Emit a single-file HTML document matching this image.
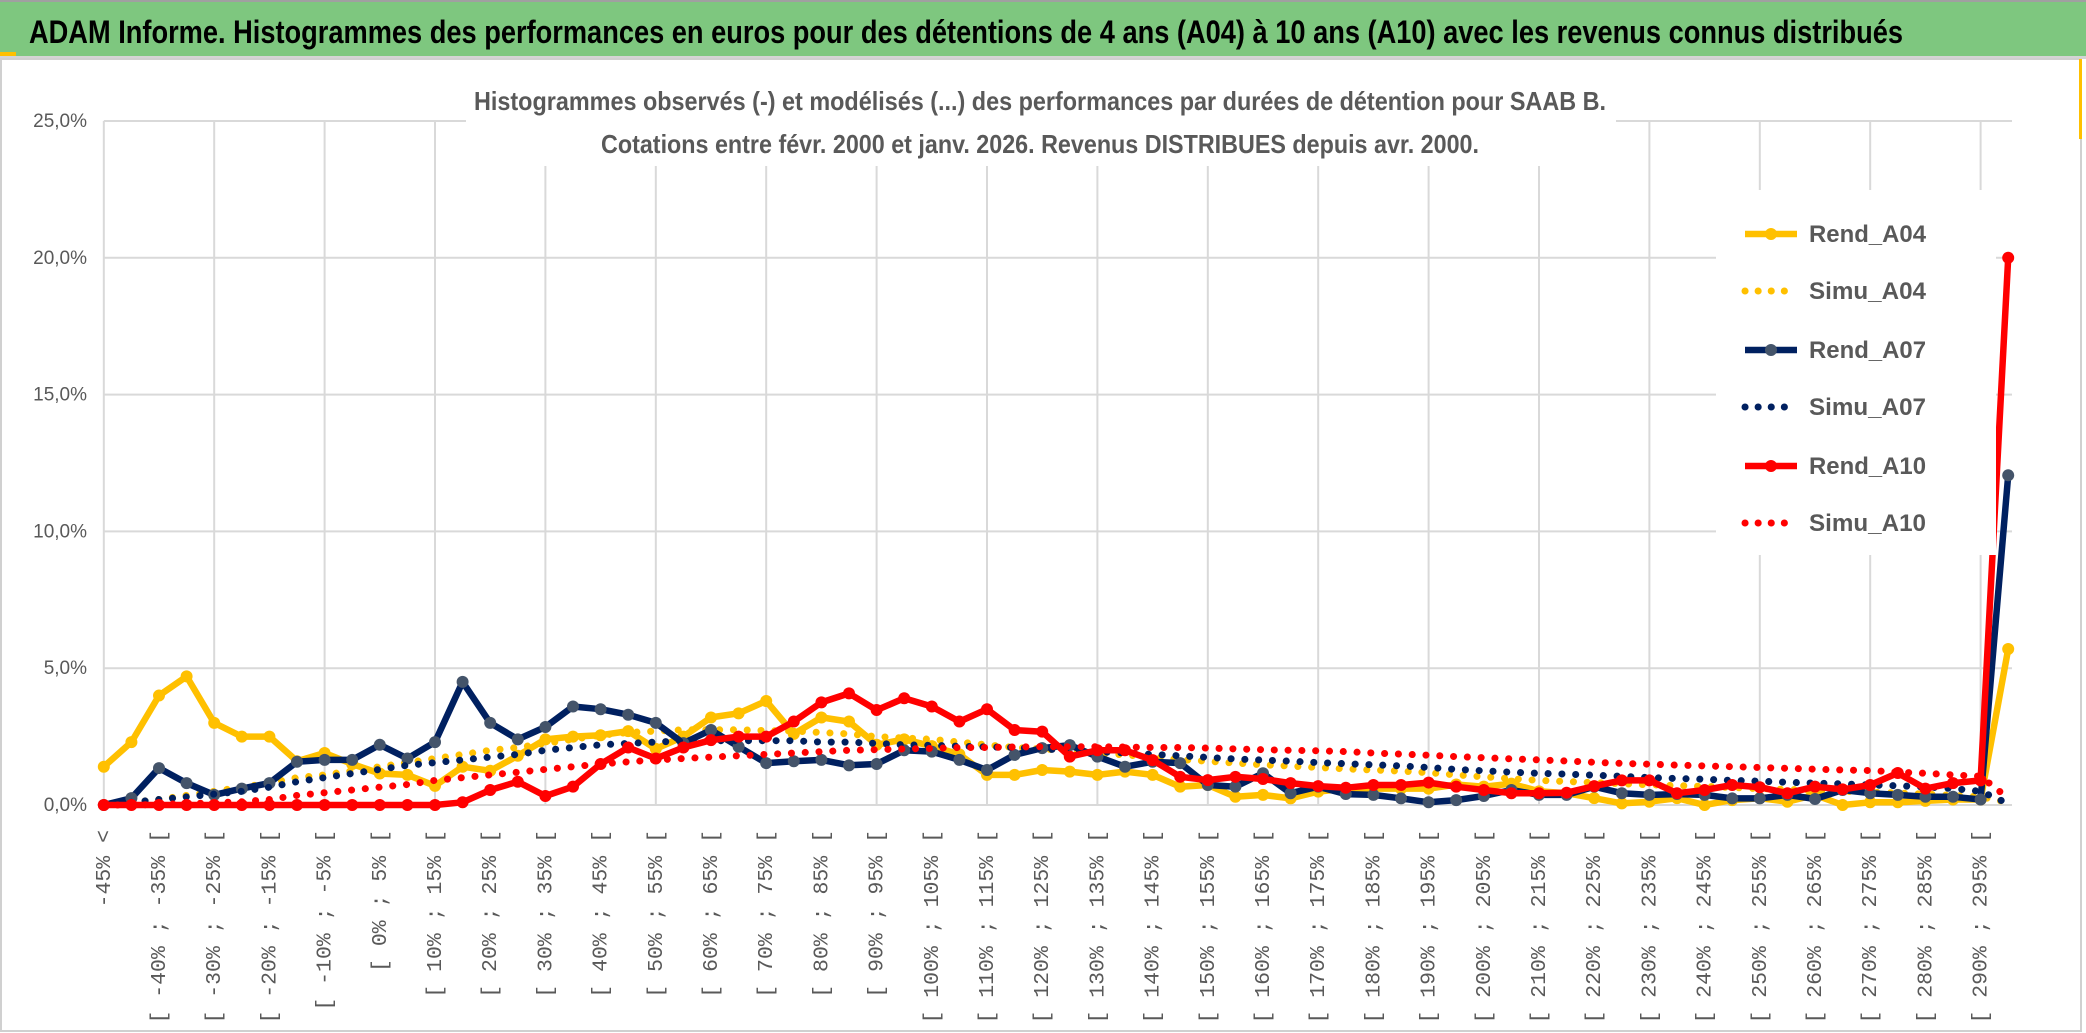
<!DOCTYPE html>
<html><head><meta charset="utf-8"><style>
html,body{margin:0;padding:0;background:#fff;}
svg{display:block;}
</style></head><body>
<svg id="chart" width="2086" height="1033" viewBox="0 0 2086 1033" xmlns="http://www.w3.org/2000/svg">
<rect x="0" y="0" width="2086" height="56" fill="#7ec77f"/>
<rect x="0" y="0" width="2086" height="2" fill="#a0a0a0"/>
<rect x="0" y="52" width="16" height="4" fill="#ffc000"/>
<text x="29" y="43" font-family="'Liberation Sans Narrow','Liberation Sans',sans-serif" font-weight="bold" font-size="32" fill="#000" textLength="1874" lengthAdjust="spacingAndGlyphs">ADAM Informe. Histogrammes des performances en euros pour des détentions de 4 ans (A04) à 10 ans (A10) avec les revenus connus distribués</text>
<rect x="0" y="56" width="2086" height="3" fill="#d4d4d4"/>
<rect x="1" y="59" width="2080" height="972" fill="#fff" stroke="#d0d0d0" stroke-width="2"/>
<rect x="2079" y="59" width="3" height="80" fill="#ffc000"/>
<g id="grid"></g>
<g id="ylabels"></g>
<g id="xlabels"></g>
<rect x="466" y="80" width="1150" height="86" fill="#fff"/>
<text x="1040" y="110" text-anchor="middle" font-family="'Liberation Sans Narrow','Liberation Sans',sans-serif" font-weight="bold" font-size="26" fill="#595959" textLength="1132" lengthAdjust="spacingAndGlyphs">Histogrammes observés (-) et modélisés (...) des performances par durées de détention pour SAAB B.</text>
<text x="1040" y="153" text-anchor="middle" font-family="'Liberation Sans Narrow','Liberation Sans',sans-serif" font-weight="bold" font-size="26" fill="#595959" textLength="878" lengthAdjust="spacingAndGlyphs">Cotations entre févr. 2000 et janv. 2026. Revenus DISTRIBUES depuis avr. 2000.</text>
<g id="series"></g>
<g id="legend"></g>
</svg>
<script>
const categories = ["-45% <"].concat(Array.from({length:69},(_, k)=>"[ "+(-45+5*k)+"% ; "+(-40+5*k)+"% ["));
const yTicks = [0,5,10,15,20,25];
const yTickLabels = ["0,0%","5,0%","10,0%","15,0%","20,0%","25,0%"];
const seriesNames = ["Rend_A04","Simu_A04","Rend_A07","Simu_A07","Rend_A10","Simu_A10"];
const rendA04 = [1.4,2.3,4.0,4.7,3.0,2.5,2.5,1.6,1.9,1.5,1.15,1.1,0.7,1.4,1.25,1.8,2.4,2.5,2.55,2.7,2.05,2.5,3.2,3.35,3.8,2.6,3.2,3.05,2.2,2.4,2.15,1.85,1.1,1.1,1.28,1.22,1.1,1.22,1.1,0.67,0.73,0.3,0.37,0.24,0.49,0.6,0.6,0.6,0.6,0.75,0.67,0.78,0.5,0.43,0.25,0.06,0.12,0.25,0.0,0.18,0.25,0.12,0.37,0.0,0.1,0.1,0.15,0.2,0.2,5.7];
const simuA04 = [0,0.1,0.2,0.35,0.5,0.65,0.8,1.0,1.1,1.25,1.4,1.55,1.7,1.85,2.0,2.1,2.25,2.4,2.55,2.65,2.7,2.75,2.75,2.75,2.72,2.7,2.65,2.6,2.5,2.45,2.4,2.3,2.2,2.1,2.05,1.98,1.9,1.83,1.75,1.66,1.6,1.53,1.47,1.42,1.37,1.32,1.28,1.24,1.18,1.1,1.03,0.96,0.9,0.86,0.82,0.78,0.74,0.71,0.68,0.64,0.6,0.57,0.53,0.5,0.47,0.44,0.4,0.35,0.3,0.1];
const rendA07 = [0,0.25,1.35,0.8,0.37,0.6,0.8,1.58,1.65,1.65,2.2,1.7,2.3,4.5,3.0,2.4,2.85,3.6,3.5,3.3,3.0,2.26,2.74,2.13,1.53,1.6,1.65,1.45,1.5,2.0,1.95,1.65,1.28,1.83,2.08,2.19,1.77,1.4,1.58,1.53,0.73,0.67,1.16,0.43,0.67,0.4,0.37,0.24,0.1,0.18,0.33,0.55,0.37,0.37,0.67,0.43,0.37,0.4,0.37,0.24,0.24,0.37,0.22,0.55,0.43,0.37,0.3,0.3,0.2,12.05];
const simuA07 = [0,0.1,0.2,0.3,0.4,0.5,0.65,0.85,1.0,1.15,1.3,1.45,1.55,1.65,1.75,1.85,2.0,2.1,2.2,2.25,2.3,2.35,2.35,2.35,2.35,2.35,2.3,2.3,2.25,2.2,2.18,2.15,2.12,2.1,2.05,2.0,1.95,1.9,1.85,1.8,1.74,1.68,1.64,1.6,1.55,1.51,1.47,1.43,1.37,1.3,1.25,1.2,1.16,1.13,1.09,1.05,1.0,0.97,0.94,0.9,0.87,0.83,0.8,0.77,0.73,0.7,0.66,0.6,0.5,0.05];
const rendA10 = [0,0,0,0,0,0,0,0,0,0,0,0,0,0.1,0.55,0.85,0.33,0.67,1.5,2.1,1.7,2.1,2.37,2.5,2.5,3.05,3.75,4.08,3.47,3.9,3.6,3.05,3.5,2.74,2.68,1.77,2.0,2.0,1.64,1.03,0.91,1.03,0.95,0.8,0.69,0.63,0.73,0.73,0.82,0.67,0.55,0.43,0.43,0.45,0.69,0.9,0.9,0.43,0.55,0.73,0.65,0.43,0.67,0.57,0.73,1.17,0.6,0.8,0.9,20.0];
const simuA10 = [0,0,0.02,0.05,0.08,0.12,0.2,0.35,0.45,0.55,0.65,0.75,0.9,1.0,1.1,1.2,1.3,1.4,1.5,1.58,1.65,1.7,1.75,1.8,1.85,1.9,1.95,2.0,2.02,2.05,2.07,2.1,2.1,2.12,2.13,2.13,2.13,2.12,2.1,2.1,2.08,2.05,2.02,2.0,1.98,1.95,1.9,1.86,1.82,1.77,1.73,1.69,1.65,1.61,1.56,1.52,1.49,1.46,1.43,1.4,1.37,1.34,1.31,1.28,1.26,1.2,1.16,1.1,1.05,0.25];

const NS="http://www.w3.org/2000/svg";
const X0=103.8, XSTEP=27.6, Y0=805, YPX=27.36, XR=2012;
function xScale(i){return X0+XSTEP*i;}
function yScale(v){return Y0-v*YPX;}
function mk(tag,attrs,parent){const e=document.createElementNS(NS,tag);for(const k in attrs)e.setAttribute(k,attrs[k]);parent.appendChild(e);return e;}

const grid=document.getElementById('grid');
yTicks.forEach((t)=>{
  const l=mk('line',{x1:X0,x2:XR,y1:yScale(t),y2:yScale(t),stroke:'#d9d9d9','stroke-width':2},grid);
  
  
});
for(let i=0;i<categories.length;i+=4){
  const l=mk('line',{x1:xScale(i),x2:xScale(i),y1:yScale(25),y2:yScale(0),stroke:'#d9d9d9','stroke-width':2},grid);
  
  
}
const yl=document.getElementById('ylabels');
yTicks.forEach((t,k)=>{
  const tx=mk('text',{x:87,y:yScale(t)+6,'text-anchor':'end','font-family':"'Liberation Sans Narrow','Liberation Sans',sans-serif",'font-size':19,fill:'#595959'},yl);
  tx.textContent=yTickLabels[k];
  
  
});
const xl=document.getElementById('xlabels');
for(let i=0;i<categories.length;i+=2){
  const x=xScale(i)+6, y=830;
  const tx=mk('text',{x:x,y:y,'text-anchor':'end',transform:'rotate(-90 '+x+' '+y+')','font-family':"'Liberation Mono',monospace",'font-size':21.5,fill:'#595959'},xl);
  tx.textContent=categories[i];
  
  
}
const sg=document.getElementById('series');
const defs=[
  {name:'Rend_A04',data:rendA04,color:'#ffc000',marker:'#ffc000',dotted:false},
  {name:'Simu_A04',data:simuA04,color:'#ffc000',dotted:true},
  {name:'Rend_A07',data:rendA07,color:'#002060',marker:'#44546a',dotted:false},
  {name:'Simu_A07',data:simuA07,color:'#002060',dotted:true},
  {name:'Rend_A10',data:rendA10,color:'#ff0000',marker:'#ff0000',dotted:false},
  {name:'Simu_A10',data:simuA10,color:'#ff0000',dotted:true}
];
defs.forEach(s=>{
  const g=mk('g',{},sg);
  
  
  const pts=s.data.map((v,i)=>xScale(i).toFixed(1)+','+yScale(v).toFixed(1)).join(' ');
  const a={points:pts,fill:'none',stroke:s.color,'stroke-linejoin':'round'};
  if(s.dotted){a['stroke-width']=7;a['stroke-dasharray']='0.1 13.7';a['stroke-linecap']='round';}
  else{a['stroke-width']=6.5;}
  const pl=mk('polyline',a,g);
  
  
  if(!s.dotted){
    s.data.forEach((v,i)=>{
      const c=mk('circle',{cx:xScale(i),cy:yScale(v),r:6,fill:s.marker},g);
      
      
    });
  }
});
const lg=document.getElementById('legend');
const lbg=mk('rect',{x:1716,y:190,width:280,height:365,fill:'#fff'},lg);


const ly=[234,291,350,407,466,523];
defs.forEach((s,k)=>{
  const g=mk('g',{},lg);
  
  
  const a={x1:1745,x2:1797,y1:ly[k],y2:ly[k],stroke:s.color};
  if(s.dotted){a['stroke-width']=7;a['stroke-dasharray']='0.1 13';a['stroke-linecap']='round';}
  else{a['stroke-width']=6.5;}
  mk('line',a,g);
  if(!s.dotted) mk('circle',{cx:1771,cy:ly[k],r:6,fill:s.marker},g);
  const t=mk('text',{x:1809,y:ly[k]+8,'font-family':"'Liberation Sans Narrow','Liberation Sans',sans-serif",'font-weight':'bold','font-size':24,fill:'#595959',textLength:117,lengthAdjust:'spacingAndGlyphs'},g);
  t.textContent=seriesNames[k];
});
</script>
</body></html>
